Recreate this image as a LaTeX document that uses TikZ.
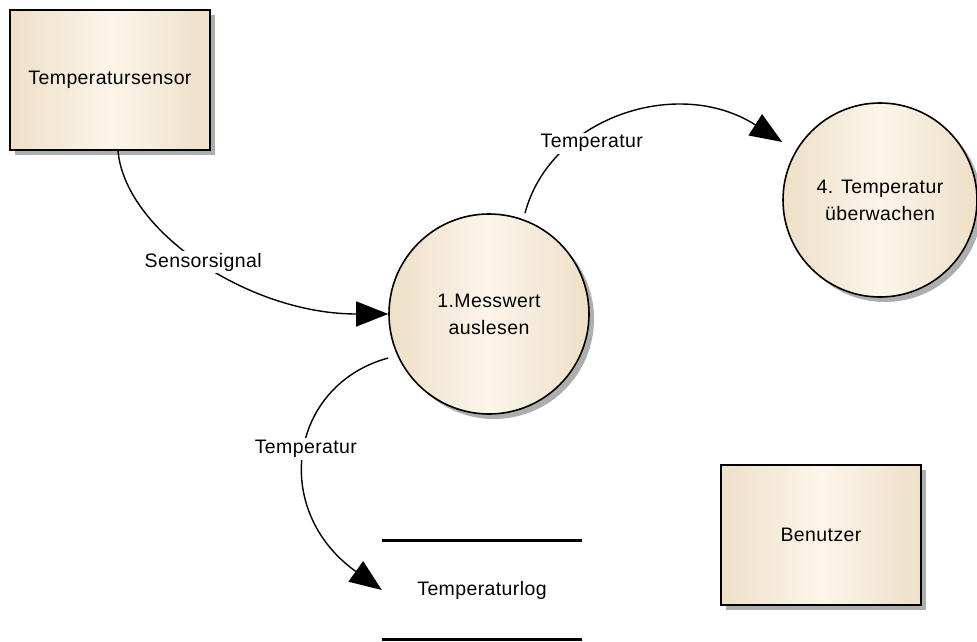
\documentclass[tikz,border=0pt]{standalone}
\usepackage{fontspec}
\setmainfont{Liberation Sans}[LetterSpace=2]
\usetikzlibrary{arrows.meta,shadows}
\definecolor{dfdtan}{HTML}{EEE0C8}
\definecolor{dfdlight}{HTML}{FCF5EA}
\tikzset{
	dfdfill/.style={left color=dfdtan, right color=dfdtan, middle color=dfdlight},
	dfdshadow/.style={drop shadow={shadow xshift=5pt, shadow yshift=-5pt, fill=black!45, opacity=0.7}},
	extbox/.style={draw, line width=1.6pt, dfdshadow, dfdfill, minimum width=200pt, minimum height=140pt},
	procnode/.style={circle, draw, line width=1.6pt, dfdshadow, dfdfill, minimum size=200pt, align=center},
	flow/.style={line width=1.4pt, -{Triangle[length=32pt, width=25pt]}},
	flowlabel/.style={fill=white, inner sep=2pt},
}

\begin{document}
\begin{tikzpicture}[x=1pt, y=-1pt, font=\fontsize{19.5}{27}\selectfont]
	\useasboundingbox (0,0) rectangle (977,642);
	\node[extbox] (sensor) at (110,80) {Temperatursensor};%terminator
	\node[procnode] (m1) at (489,314) {1.Messwert\\auslesen};%process 1
	\node[procnode, minimum size=194pt] (m4) at (880,200) {4. Temperatur\\überwachen};%process 4
	\node[extbox] (user) at (821,535) {Benutzer};%terminator
	\node[minimum width=200pt, minimum height=99pt] (log) at (482,590) {Temperaturlog};%store
	\draw[line width=3.5pt] (log.north west) -- (log.north east);
	\draw[line width=3.5pt] (log.south west) -- (log.south east);
	\coordinate (s1) at ([xshift=8pt]sensor.south);
	\coordinate (s2) at ([xshift=36pt]m1.north);
	\coordinate (s3) at ([yshift=-44pt]m1.west);
	\coordinate (t2) at ([yshift=58pt]m4.west);
	\draw[flow] (s1) .. controls +(7,80) and +(-140,0) .. node[flowlabel, pos=0.5]{Sensorsignal} (m1.west);
	\draw[flow] (s2) .. controls +(25,-95) and +(-105,-67) .. node[flowlabel, pos=0.3, xshift=20pt]{Temperatur} (t2);
	\draw[flow] (s3) .. controls +(-99,27) and +(-112,-80) .. node[flowlabel, pos=0.5, yshift=5pt]{Temperatur} (log.west);
\end{tikzpicture}
\end{document}
